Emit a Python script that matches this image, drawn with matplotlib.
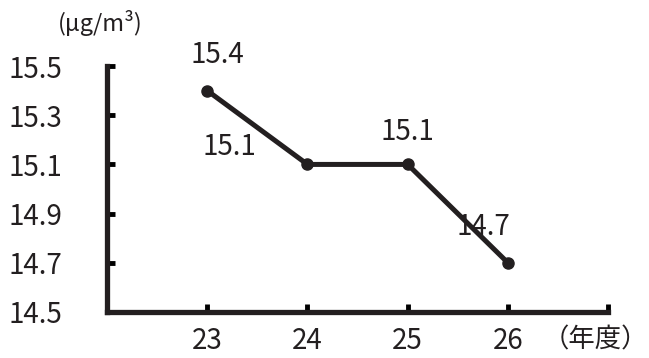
import matplotlib
matplotlib.use("Agg")
import matplotlib.pyplot as plt

plt.rcParams['font.family'] = ['Noto Sans CJK JP', 'DejaVu Sans']

# データ
years = [23, 24, 25, 26]
values = [15.4, 15.1, 15.1, 14.7]
value_labels = ["15.4", "15.1", "15.1", "14.7"]
y_ticks = [14.5, 14.7, 14.9, 15.1, 15.3, 15.5]
y_tick_labels = ["14.5", "14.7", "14.9", "15.1", "15.3", "15.5"]
x_ticks = [23, 24, 25, 26, 27]
x_tick_labels = ["23", "24", "25", "26", ""]

ink = '#231f20'

fig = plt.figure(figsize=(6.49, 3.58), dpi=100)
ax = fig.add_axes([0.165, 0.1285, 0.772, 0.687])

ax.plot(years, values, color=ink, linewidth=3.6, marker='o', markersize=8,
        solid_capstyle='round', zorder=3)

ax.set_xlim(22, 27)
ax.set_ylim(14.5, 15.5)

ax.set_xticks(x_ticks)
ax.set_xticklabels(x_tick_labels, fontsize=20, color=ink)
ax.set_yticks(y_ticks)
ax.set_yticklabels(y_tick_labels, fontsize=20, color=ink)

ax.tick_params(axis='y', direction='in', length=6, width=3.5, pad=32)
ax.tick_params(axis='x', direction='in', length=6, width=3.5, pad=10)

for s in ['top', 'right']:
    ax.spines[s].set_visible(False)
for s in ['left', 'bottom']:
    ax.spines[s].set_linewidth(3.8)
    ax.spines[s].set_color(ink)
    ax.spines[s].set_capstyle('projecting')

# 値ラベル
offsets = [(10, 36), (-78, 17), (0, 32), (-25, 36)]
for x, v, lab, (dx, dy) in zip(years, values, value_labels, offsets):
    ax.annotate(lab, (x, v), xytext=(dx, dy), textcoords='offset pixels',
                ha='center', va='center', fontsize=20, color=ink)

# 単位
fig.text(0.155, 0.935, "(μg/m³)", fontsize=17, color=ink, ha='center', va='center')
fig.text(0.918, 0.05, "（年度）", fontsize=19, color=ink, ha='center', va='center')

plt.savefig('out.png', dpi=100)
